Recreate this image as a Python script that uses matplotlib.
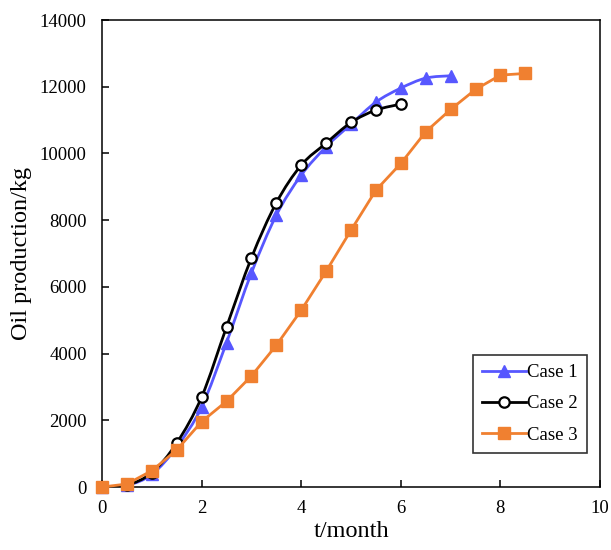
import numpy as np
import matplotlib
matplotlib.use('Agg')
from matplotlib import pyplot as plt
from matplotlib.path import Path
from matplotlib.patches import PathPatch
from matplotlib.lines import Line2D

# oil production (kg) vs time (month)
months1 = [0, 0.5, 1, 1.5, 2, 2.5, 3, 3.5, 4, 4.5, 5, 5.5, 6, 6.5, 7]
case1 = [0, 50, 380, 1200, 2400, 4330, 6420, 8150, 9350, 10200, 10880, 11540, 11960, 12260, 12330]

months2 = [0, 0.5, 1, 1.5, 2, 2.5, 3, 3.5, 4, 4.5, 5, 5.5, 6]
case2 = [0, 60, 430, 1320, 2700, 4800, 6870, 8520, 9650, 10310, 10930, 11300, 11480]

months3 = [0, 0.5, 1, 1.5, 2, 2.5, 3, 3.5, 4, 4.5, 5, 5.5, 6, 6.5, 7, 7.5, 8, 8.5]
case3 = [0, 90, 490, 1110, 1960, 2570, 3330, 4250, 5300, 6470, 7700, 8900, 9700,
         10650, 11320, 11920, 12350, 12400]

labels = ['Case 1', 'Case 2', 'Case 3']
blue = '#5757FF'
orange = '#F08030'


def smooth_path(x, y):
    # catmull-rom style bezier through the data points (like a smoothed line)
    x = np.asarray(x, float)
    y = np.asarray(y, float)
    verts = [(x[0], y[0])]
    codes = [Path.MOVETO]
    n = len(x)
    for i in range(n - 1):
        x0, y0 = (x[i - 1], y[i - 1]) if i > 0 else (x[i], y[i])
        x3, y3 = (x[i + 2], y[i + 2]) if i + 2 < n else (x[i + 1], y[i + 1])
        c1 = (x[i] + (x[i + 1] - x0) / 6, y[i] + (y[i + 1] - y0) / 6)
        c2 = (x[i + 1] - (x3 - x[i]) / 6, y[i + 1] - (y3 - y[i]) / 6)
        verts += [c1, c2, (x[i + 1], y[i + 1])]
        codes += [Path.CURVE4] * 3
    return Path(verts, codes)


plt.rcParams['font.family'] = 'Liberation Serif'
fig = plt.figure(figsize=(6.11, 5.5), dpi=100)
ax = fig.add_axes([0.167, 0.1145, 0.815, 0.849])

ax.add_patch(PathPatch(smooth_path(months1, case1), fill=False, ec=blue, lw=2.0, zorder=2))
ax.plot(months1, case1, ls='none', marker='^', ms=8, color=blue, zorder=2.1, clip_on=False)

ax.add_patch(PathPatch(smooth_path(months2, case2), fill=False, ec='black', lw=2.0, zorder=3))
ax.plot(months2, case2, ls='none', marker='o', ms=7.5, mfc='white', mec='black', mew=1.6,
        zorder=3.1, clip_on=False)

ax.plot(months3, case3, color=orange, lw=2.0, marker='s', ms=8, zorder=4, clip_on=False)

ax.set_xlim(0, 10)
ax.set_ylim(0, 14000)
ax.set_xticks(range(0, 11, 2))
ax.set_yticks(range(0, 14001, 2000))
ax.tick_params(direction='in', length=5, width=1.1, labelsize=13.5)
ax.tick_params(axis='y', pad=11)
ax.tick_params(axis='x', pad=9)
for s in ax.spines.values():
    s.set_linewidth(1.1)

ax.set_xlabel('t/month', fontsize=17.5, labelpad=3)
ax.set_ylabel('Oil production/kg', fontsize=17.5, labelpad=6)

handles = [
    Line2D([], [], color=blue, lw=2.0, marker='^', ms=8),
    Line2D([], [], color='black', lw=2.0, marker='o', ms=7.5, mfc='white', mew=1.6),
    Line2D([], [], color=orange, lw=2.0, marker='s', ms=8),
]
leg = ax.legend(handles, labels, loc='lower right', bbox_to_anchor=(0.974, 0.073),
                borderaxespad=0, fontsize=13.5, frameon=True, fancybox=False,
                edgecolor='black', handlelength=2.3, handletextpad=0.08,
                labelspacing=0.75, borderpad=0.5)
leg.get_frame().set_linewidth(1.2)

plt.savefig('out.png', dpi=100)
